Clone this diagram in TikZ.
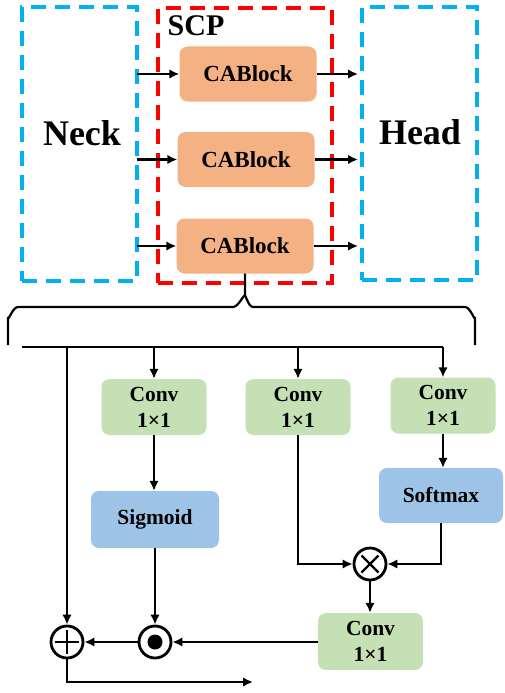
\documentclass[tikz,border=0pt]{standalone}
\usepackage{fontspec}
\setmainfont{Liberation Serif}
\usetikzlibrary{arrows.meta,calc}
\definecolor{orng}{HTML}{F4B183}
\definecolor{grn}{HTML}{C5E0B4}
\definecolor{blu}{HTML}{9DC3E6}
\definecolor{dblue}{HTML}{00B0F0}
\definecolor{dred}{HTML}{FF0000}
\begin{document}
\begin{tikzpicture}[x=1pt,y=-1pt,
  cab/.style={fill=orng, rounded corners=8pt, minimum width=137pt, minimum height=55pt, inner sep=0pt, font=\fontsize{23}{27}\selectfont\bfseries},
  convbox/.style={fill=grn, rounded corners=8pt, minimum width=105pt, minimum height=56pt, inner sep=0pt, align=center, font=\fontsize{21.5}{26}\selectfont\bfseries},
  actbox/.style={fill=blu, rounded corners=8pt, inner sep=0pt, font=\fontsize{21.5}{26}\selectfont\bfseries},
  dbox/.style={draw, line width=3.5pt, dash pattern=on 15pt off 9pt, inner sep=0pt},
  big/.style={font=\fontsize{36}{40}\selectfont\bfseries},
  opc/.style={circle, draw, line width=2.8pt, minimum size=32pt, inner sep=0pt},
  ln/.style={line width=2.2pt},
  arr/.style={line width=2.2pt, -{Latex[length=10pt,width=9.5pt]}}
]
\useasboundingbox (0,0) rectangle (504,693);
% dashed boxes
\node[dbox, dblue, minimum width=115pt, minimum height=274pt] (neckbox) at (79.5,144) {};
\node[dbox, dred, minimum width=174pt, minimum height=275pt] (scpbox) at (245,145.5) {};
\node[dbox, dblue, minimum width=115pt, minimum height=273pt] (headbox) at (419.5,143.5) {};
\node[big] (neck) at (82,133) {Neck};
\node[big] (head) at (420,132) {Head};
\node[font=\fontsize{30}{34}\selectfont\bfseries] (scp) at (196,26) {SCP};
% CABlocks
\node[cab] (cab1) at (248,74) {CABlock};
\node[cab] (cab2) at (246,159.5) {CABlock};
\node[cab] (cab3) at (245,246) {CABlock};
\foreach \i in {1,2,3}{
  \coordinate (in\i) at (137,0 |- cab\i.west);
  \coordinate (out\i) at (358,0 |- cab\i.east);
  \draw[arr] (in\i) -- (cab\i.west);
  \draw[arr] (cab\i.east) -- (out\i);
}
% brace
\coordinate (bl) at (8,345);
\coordinate (br) at (475,345);
\draw[ln] (bl) -- (8,317) to[out=270,in=180] (18,307) -- (233,307)
  to[out=0,in=90] (cab3.south |- 0,297) -- (cab3.south);
\draw[ln] (br) -- (475,317) to[out=270,in=0] (465,307) -- (253,307)
  to[out=180,in=90] (cab3.south |- 0,297);
% lower part
\node[convbox] (c1) at (154,407) {Conv\\1×1};
\node[convbox] (c2) at (298,407) {Conv\\1×1};
\node[convbox] (c3) at (443,405.5) {Conv\\1×1};
\node[actbox, minimum width=128pt, minimum height=57pt] (sig) at (155,519.5) {Sigmoid};
\node[actbox, minimum width=124pt, minimum height=55pt] (sm) at (441,495.5) {Softmax};
\node[convbox, minimum height=57pt] (cb) at (370.5,641.5) {Conv\\1×1};
\node[opc] (ox) at (370,564) {};
\node[opc] (od) at (155,642) {};
\node[opc] (op) at (67,642) {};
\draw[line width=2.4pt] ($(ox)+(-8.5,-8.5)$) -- ($(ox)+(8.5,8.5)$) ($(ox)+(-8.5,8.5)$) -- ($(ox)+(8.5,-8.5)$);
\fill ($(od)$) circle (7.5);
\draw[line width=2.4pt] ($(op)+(-12,0)$) -- ($(op)+(12,0)$) ($(op)+(0,-12)$) -- ($(op)+(0,12)$);
% bus
\coordinate (busL) at (22,347);
\coordinate (busR) at (443,347);
\coordinate (outE) at (253,682);
\draw[ln] (busL) -- (busR);
\draw[arr] (c1.north |- busL) -- (c1.north);
\draw[arr] (c2.north |- busL) -- (c2.north);
\draw[arr] (busR) -- (c3.north);
\draw[arr] (op.north |- busL) -- (op.north);
\draw[arr] (c1.south) -- (c1.south |- sig.north);
\draw[arr] (c3.south) -- (c3.south |- sm.north);
\draw[arr] (c2.south) |- (ox.west);
\draw[arr] (sm.south) |- (ox.east);
\draw[arr] (ox.south) -- (ox.south |- cb.north);
\draw[arr] (cb.west |- od.east) -- (od.east);
\draw[arr] (sig.south) -- (od.north);
\draw[arr] (od.west) -- (op.east);
\draw[arr] (op.south) |- (outE);
\end{tikzpicture}
\end{document}
